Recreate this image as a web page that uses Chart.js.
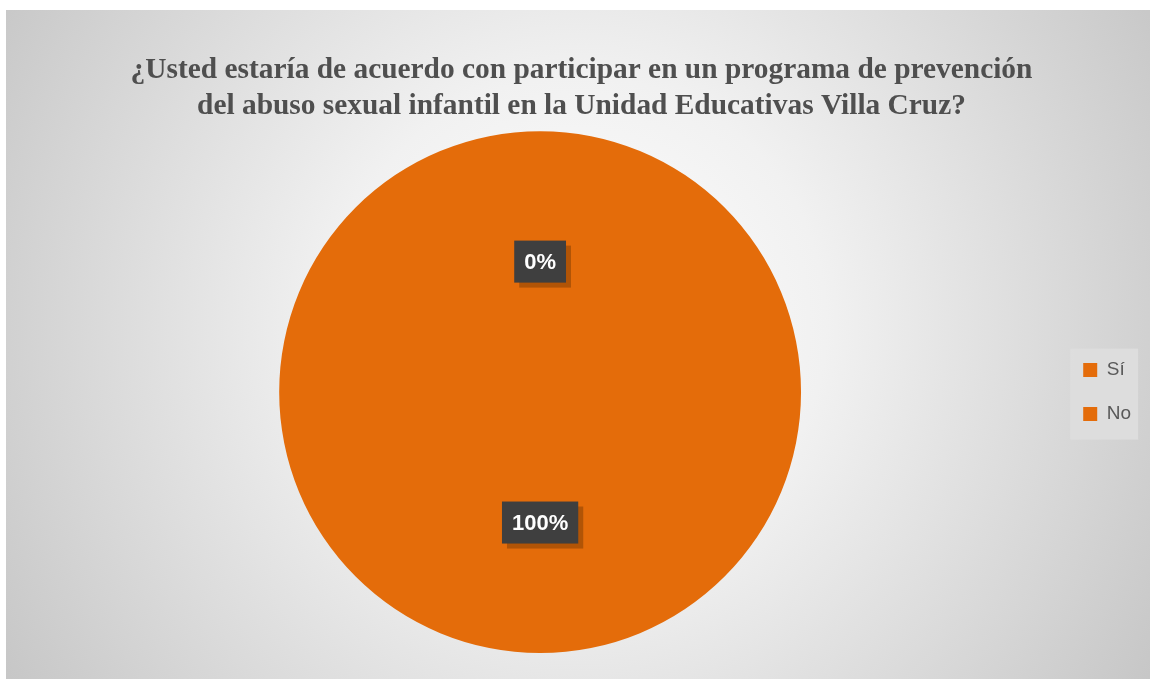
<!DOCTYPE html>
<html>
<head>
<meta charset="utf-8">
<script src="https://cdn.jsdelivr.net/npm/chart.js@4"></script>
<style>
  html, body { margin: 0; padding: 0; background: #fff; }
  #wrap { position: absolute; left: 6px; top: 10px; width: 1144px; height: 669px; }
</style>
</head>
<body>
<div id="wrap"><canvas id="pieChart"></canvas></div>
<script>
const titleLines = [
  "¿Usted estaría de acuerdo con participar en un programa de prevención",
  "del abuso sexual infantil en la Unidad Educativas Villa Cruz?"
];
const categories = ["Sí", "No"];
const percentages = [100, 0];
const sliceColors = ["#e46c0a", "#e46c0a"];

// radial grey background behind everything
const backgroundPlugin = {
  id: "bg",
  beforeDraw(chart) {
    const { ctx, width, height } = chart;
    const g = ctx.createRadialGradient(width * 0.5, height * 0.47, 0, width * 0.5, height * 0.47, width * 0.62);
    g.addColorStop(0, "#ffffff");
    g.addColorStop(0.35, "#f1f1f1");
    g.addColorStop(1, "#c3c3c3");
    ctx.save();
    ctx.fillStyle = g;
    ctx.fillRect(0, 0, width, height);
    // legend panel
    const lg = chart.legend;
    if (lg && lg.legendHitBoxes && lg.legendHitBoxes.length) {
      const boxes = lg.legendHitBoxes;
      const x0 = boxes[0].left - 13;
      const y0 = boxes[0].top - 12;
      const last = boxes[boxes.length - 1];
      ctx.fillStyle = "rgba(222,222,222,0.9)";
      ctx.fillRect(x0, y0, 68, last.top + last.height - y0 + 16);
    }
    ctx.restore();
  }
};

// dark callout labels with the percentage
const labelPlugin = {
  id: "pctLabels",
  afterDatasetsDraw(chart) {
    const { ctx } = chart;
    const meta = chart.getDatasetMeta(0);
    ctx.save();
    ctx.font = "bold 22px 'Liberation Sans', Arial, sans-serif";
    ctx.textAlign = "center";
    ctx.textBaseline = "middle";
    meta.data.forEach((arc, i) => {
      const p = arc.tooltipPosition();
      const txt = percentages[i] + "%";
      const w = ctx.measureText(txt).width + 20;
      const h = 42;
      ctx.fillStyle = "rgba(60,30,0,0.3)";
      ctx.fillRect(p.x - w / 2 + 5, p.y - h / 2 + 5, w, h);
      ctx.fillStyle = "#3f3f3f";
      ctx.fillRect(p.x - w / 2, p.y - h / 2, w, h);
      ctx.fillStyle = "#ffffff";
      ctx.fillText(txt, p.x, p.y + 1);
    });
    ctx.restore();
  }
};

new Chart(document.getElementById("pieChart"), {
  type: "pie",
  data: {
    labels: categories,
    datasets: [{
      data: percentages,
      backgroundColor: sliceColors,
      borderWidth: 0
    }]
  },
  options: {
    responsive: true,
    maintainAspectRatio: false,
    animation: false,
    layout: { padding: { left: 16, right: 9, top: 0, bottom: 26 } },
    plugins: {
      title: {
        display: true,
        text: titleLines,
        color: "#4f4f4f",
        font: { family: "'Liberation Serif', 'Times New Roman', serif", size: 29.4, weight: "bold", lineHeight: 1.21 },
        padding: { top: 43, bottom: 7 }
      },
      legend: {
        position: "right",
        fullSize: false,
        labels: {
          color: "#595959",
          font: { family: "'Liberation Sans', Arial, sans-serif", size: 19 },
          boxWidth: 14,
          boxHeight: 14,
          padding: 25
        }
      },
      tooltip: { enabled: false }
    }
  },
  plugins: [backgroundPlugin, labelPlugin]
});
</script>
</body>
</html>
